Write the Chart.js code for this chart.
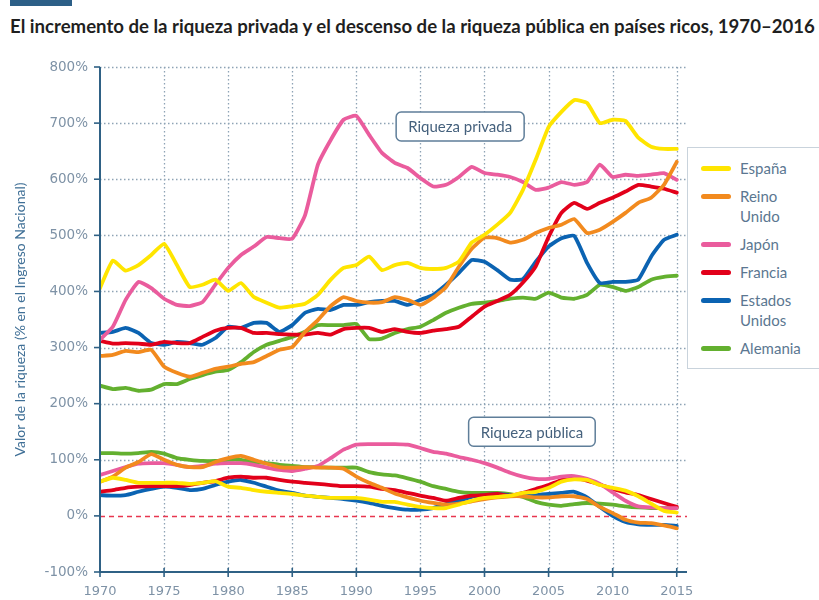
<!DOCTYPE html>
<html lang="es">
<head>
<meta charset="UTF-8">
<title>Riqueza privada y pública</title>
<script src="https://cdn.jsdelivr.net/npm/chart.js"></script>
<style>
  body { margin: 0; background: #fff; }
  #wrap { position: relative; width: 819px; height: 600px; overflow: hidden; }
  #tag { position: absolute; left: 10px; top: 0; width: 62px; height: 6px; background: #2c5f87; }
  #title { position: absolute; left: 10px; top: 15px; font: bold 18.6px Lato, sans-serif; color: #1f1f1f; white-space: nowrap; }
  #chart { position: absolute; left: 0; top: 0; }
  #legend {
    position: absolute; left: 687px; top: 147px; width: 150px; height: 222px;
    border: 1.5px solid #c9d3dc; background: #fff; box-sizing: border-box;
    padding-top: 10px;
  }
  .row { position: relative; height: 20px; margin-bottom: 8px; }
  .row.two { height: 40px; }
  .sw { position: absolute; left: 13px; top: 8px; width: 30px; height: 5px; border-radius: 3px; }
  .lb { position: absolute; left: 52px; top: 0; font: 15px Lato, sans-serif; line-height: 20px; color: #5b7791; }
</style>
</head>
<body>
<div id="wrap">
  <div id="tag"></div>
  <div id="title">El incremento de la riqueza privada y el descenso de la riqueza pública en países ricos, 1970–2016</div>
  <canvas id="chart" width="819" height="600"></canvas>
  <div id="legend"></div>
</div>
<script>
// años
const years = [1970, 1971, 1972, 1973, 1974, 1975, 1976, 1977, 1978, 1979,
               1980, 1981, 1982, 1983, 1984, 1985, 1986, 1987, 1988, 1989,
               1990, 1991, 1992, 1993, 1994, 1995, 1996, 1997, 1998, 1999,
               2000, 2001, 2002, 2003, 2004, 2005, 2006, 2007, 2008, 2009,
               2010, 2011, 2012, 2013, 2014, 2015];

const countries = ['España', 'Reino Unido', 'Japón', 'Francia', 'Estados Unidos', 'Alemania'];

// riqueza privada (% del ingreso nacional)
const privEspana = [406, 455, 437, 447, 465, 485, 447, 408, 412, 421,
                    401, 415, 390, 380, 371, 374, 378, 394, 421, 442,
                    447, 462, 438, 447, 451, 442, 440, 442, 453, 487,
                    501, 519, 540, 581, 635, 693, 720, 741, 736, 700,
                    706, 704, 674, 658, 654, 654];
const privReinoUnido = [285, 287, 294, 292, 296, 266, 255, 248, 255, 262,
                        266, 271, 274, 285, 296, 301, 328, 349, 374, 390,
                        383, 380, 381, 390, 385, 376, 389, 408, 444, 476,
                        496, 495, 487, 492, 504, 513, 519, 529, 504, 510,
                        524, 540, 558, 567, 590, 631];
const privJapon = [314, 337, 385, 417, 406, 387, 376, 374, 381, 412,
                   442, 465, 480, 497, 495, 494, 536, 626, 670, 706,
                   713, 679, 647, 629, 620, 602, 587, 590, 604, 622,
                   611, 608, 604, 595, 581, 585, 595, 590, 595, 626,
                   604, 608, 606, 608, 611, 599];
const privFrancia = [312, 307, 308, 307, 305, 310, 308, 308, 319, 330,
                     335, 335, 326, 326, 324, 323, 323, 326, 323, 333,
                     335, 335, 328, 333, 328, 326, 330, 333, 337, 355,
                     373, 383, 394, 416, 445, 497, 540, 558, 547, 558,
                     567, 578, 590, 587, 583, 576];
const privEEUU = [326, 328, 335, 326, 308, 305, 310, 308, 305, 317,
                  337, 335, 344, 344, 328, 340, 362, 369, 367, 376,
                  376, 381, 383, 383, 376, 385, 394, 412, 433, 456,
                  453, 438, 421, 422, 453, 480, 495, 499, 451, 415,
                  417, 417, 421, 462, 492, 501];
const privAlemania = [232, 226, 228, 223, 225, 235, 235, 244, 251, 257,
                      260, 274, 292, 305, 312, 319, 328, 340, 340, 340,
                      342, 315, 316, 326, 333, 337, 349, 362, 371, 378,
                      380, 383, 387, 389, 387, 398, 389, 387, 394, 412,
                      408, 401, 408, 421, 426, 428];

// riqueza pública (% del ingreso nacional)
const pubEspana = [61, 68, 64, 59, 59, 59, 59, 57, 59, 62,
                   52, 50, 46, 43, 41, 39, 36, 34, 32, 32,
                   32, 29, 25, 25, 20, 16, 14, 14, 20, 27,
                   32, 34, 36, 41, 43, 50, 61, 65, 64, 55,
                   50, 45, 35, 22, 9, 6];
const pubReinoUnido = [61, 70, 86, 96, 110, 100, 91, 87, 87, 96,
                       103, 107, 100, 93, 87, 86, 87, 86, 86, 84,
                       70, 59, 50, 40, 33, 27, 23, 20, 22, 26,
                       30, 33, 35, 35, 33, 33, 35, 35, 30, 16,
                       5, -7, -12, -13, -17, -22];
const pubJapon = [73, 80, 87, 93, 94, 94, 91, 87, 89, 93,
                  94, 94, 91, 86, 82, 80, 84, 89, 103, 118,
                  127, 128, 128, 128, 127, 121, 114, 111, 105, 100,
                  94, 86, 77, 70, 66, 66, 70, 71, 66, 57,
                  42, 27, 17, 15, 14, 14];
const pubFrancia = [43, 46, 50, 52, 53, 53, 53, 55, 59, 62,
                    68, 70, 68, 68, 64, 61, 59, 57, 55, 53,
                    53, 52, 48, 46, 41, 36, 32, 27, 32, 36,
                    37, 39, 36, 41, 48, 55, 64, 68, 63, 56,
                    48, 42, 37, 30, 23, 16];
const pubEEUU = [37, 36, 37, 43, 48, 52, 50, 46, 48, 55,
                 61, 64, 59, 52, 45, 41, 36, 34, 32, 30,
                 27, 23, 18, 14, 11, 11, 14, 21, 27, 34,
                 37, 39, 37, 37, 37, 39, 41, 43, 33, 16,
                 0, -11, -15, -16, -16, -18];
const pubAlemania = [112, 112, 111, 112, 114, 111, 103, 100, 98, 98,
                     100, 100, 96, 94, 91, 89, 87, 87, 86, 86,
                     86, 78, 74, 72, 67, 61, 53, 48, 43, 41,
                     41, 41, 39, 34, 25, 20, 18, 21, 23, 22,
                     20, 17, 15, 14, 14, 14];

const yTicks = [-100, 0, 100, 200, 300, 400, 500, 600, 700, 800];
const xTicks = [1970, 1975, 1980, 1985, 1990, 1995, 2000, 2005, 2010, 2015];

const privada = [privEspana, privReinoUnido, privJapon, privFrancia, privEEUU, privAlemania];
const publica = [pubEspana, pubReinoUnido, pubJapon, pubFrancia, pubEEUU, pubAlemania];
const colores = ['#ffe500', '#f28a1e', '#ea5c9d', '#e2001a', '#0b63b2', '#63b02f'];

const toPoints = arr => arr.map((v, i) => ({ x: years[i], y: v }));
const datasets = [];
countries.forEach((name, i) => {
  [privada[i], publica[i]].forEach(serie => {
    datasets.push({
      label: name,
      data: toPoints(serie),
      borderColor: colores[i],
      borderWidth: 3.8,
      pointRadius: 0,
      tension: 0.15,
      borderCapStyle: 'round',
      borderJoinStyle: 'round',
      fill: false
    });
  });
});

const tickColor = '#7e92a6';
const axisColor = '#2f6185';

// rejilla punteada, línea de cero, ejes y recuadros de texto
const marco = {
  id: 'marco',
  beforeDatasetsDraw(chart) {
    const { ctx, chartArea: a, scales: { x, y } } = chart;
    ctx.save();
    ctx.strokeStyle = '#8ea3b5';
    ctx.lineWidth = 1.3;
    ctx.setLineDash([1.5, 2.5]);
    xTicks.forEach(v => {
      if (v === 1970) return;
      const px = Math.round(x.getPixelForValue(v)) + 0.5;
      ctx.beginPath(); ctx.moveTo(px, a.top); ctx.lineTo(px, a.bottom); ctx.stroke();
    });
    yTicks.forEach(v => {
      if (v <= 0) return;
      const py = Math.round(y.getPixelForValue(v)) + 0.5;
      ctx.beginPath(); ctx.moveTo(a.left, py); ctx.lineTo(a.right, py); ctx.stroke();
    });
    ctx.strokeStyle = '#e8374f';
    ctx.lineWidth = 1.6;
    ctx.setLineDash([5, 4]);
    const y0 = Math.round(y.getPixelForValue(0)) + 0.5;
    ctx.beginPath(); ctx.moveTo(a.left, y0); ctx.lineTo(a.right, y0); ctx.stroke();
    ctx.restore();
  },
  afterDatasetsDraw(chart) {
    const { ctx, chartArea: a, scales: { x, y } } = chart;
    ctx.save();
    ctx.strokeStyle = axisColor;
    ctx.lineWidth = 2;
    ctx.setLineDash([]);
    ctx.beginPath();
    ctx.moveTo(a.left, a.top); ctx.lineTo(a.left, a.bottom); ctx.lineTo(a.right, a.bottom);
    ctx.stroke();
    ctx.lineWidth = 1.6;
    yTicks.forEach(v => {
      const py = y.getPixelForValue(v);
      ctx.beginPath(); ctx.moveTo(a.left - 6, py); ctx.lineTo(a.left, py); ctx.stroke();
    });
    xTicks.forEach(v => {
      const px = x.getPixelForValue(v);
      ctx.beginPath(); ctx.moveTo(px, a.bottom - 4); ctx.lineTo(px, a.bottom + 5); ctx.stroke();
    });
    // recuadros
    const notas = [
      { text: 'Riqueza privada', year: 1998.1, value: 694 },
      { text: 'Riqueza pública', year: 2003.7, value: 150 }
    ];
    ctx.font = '15px Lato, sans-serif';
    ctx.textAlign = 'center';
    ctx.textBaseline = 'middle';
    notas.forEach(n => {
      const cx = x.getPixelForValue(n.year);
      const cy = y.getPixelForValue(n.value);
      const w = ctx.measureText(n.text).width + 24;
      const h = 29;
      ctx.beginPath();
      ctx.roundRect(cx - w / 2, cy - h / 2, w, h, 5);
      ctx.fillStyle = '#fff';
      ctx.fill();
      ctx.strokeStyle = '#5f7e99';
      ctx.lineWidth = 1.5;
      ctx.stroke();
      ctx.fillStyle = '#45617d';
      ctx.fillText(n.text, cx, cy + 1);
    });
    ctx.restore();
  }
};

new Chart(document.getElementById('chart'), {
  type: 'line',
  data: { datasets },
  options: {
    responsive: false,
    animation: false,
    layout: { padding: { left: 0, top: 67, right: 132, bottom: 0 } },
    plugins: { legend: { display: false }, tooltip: { enabled: false } },
    scales: {
      x: {
        type: 'linear',
        min: 1970,
        max: 2015.8,
        afterBuildTicks: s => { s.ticks = xTicks.map(v => ({ value: v })); },
        afterFit: s => { s.height = 28; },
        grid: { display: false, drawTicks: false },
        border: { display: false },
        ticks: { color: tickColor, font: { family: 'DejaVu Sans', size: 13 }, padding: 12, maxRotation: 0,
                 callback: v => String(v) }
      },
      y: {
        min: -100,
        max: 800,
        afterBuildTicks: s => { s.ticks = yTicks.map(v => ({ value: v })); },
        afterFit: s => { s.width = 100; },
        grid: { display: false, drawTicks: false },
        border: { display: false },
        ticks: { color: tickColor, font: { family: 'DejaVu Sans', size: 13.5 }, padding: 12,
                 callback: v => v + '%' },
        title: {
          display: true,
          text: 'Valor de la riqueza (% en el Ingreso Nacional)',
          color: '#3f6f96',
          font: { family: 'Lato', size: 14 },
          padding: 12
        }
      }
    }
  },
  plugins: [marco]
});

// leyenda
const legend = document.getElementById('legend');
countries.forEach((name, i) => {
  const row = document.createElement('div');
  const dos = name.includes(' ');
  row.className = 'row' + (dos ? ' two' : '');
  row.innerHTML = '<span class="sw" style="background:' + colores[i] + '"></span>' +
                  '<span class="lb">' + name.replace(' ', '<br>') + '</span>';
  legend.appendChild(row);
});
</script>
</body>
</html>
